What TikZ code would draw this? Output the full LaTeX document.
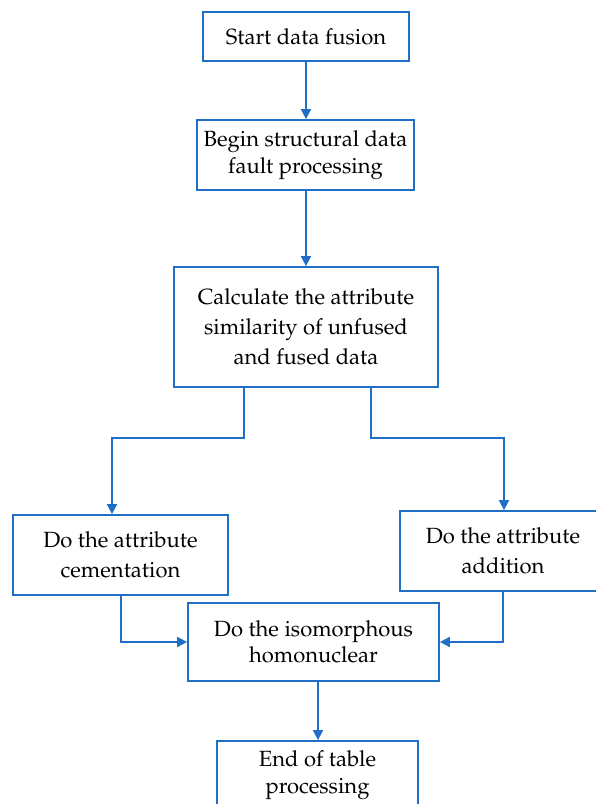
\documentclass[tikz,border=0pt]{standalone}
\usepackage[T1]{fontenc}
\usepackage{mathpazo}
\usetikzlibrary{arrows.meta}
\definecolor{flowblue}{RGB}{31,111,198}
\begin{document}
\begin{tikzpicture}[x=1pt,y=-1pt,
  box/.style={draw=flowblue,line width=1.8pt,fill=white,align=center,inner sep=0pt,
    font=\fontsize{22}{30}\selectfont},
  tight/.style={font=\fontsize{22}{26.5}\selectfont},
  arr/.style={draw=flowblue,line width=1.8pt,-{Triangle[width=10pt,length=10pt]}}]
\useasboundingbox (0,0) rectangle (596,804);
\node[box,minimum width=206pt,minimum height=49pt] (n1) at (306,36.5) {Start data fusion};
\node[box,tight,minimum width=217pt,minimum height=70pt] (n2) at (305.5,155) {Begin structural data\\fault processing};
\node[box,minimum width=264pt,minimum height=120pt] (n3) at (306,327) {Calculate the attribute\\similarity of unfused\\and fused data};
\node[box,minimum width=215pt,minimum height=80pt] (n4) at (120.5,555) {Do the attribute\\cementation};
\node[box,minimum width=206pt,minimum height=80pt] (n5) at (503,551) {Do the attribute\\addition};
\node[box,tight,minimum width=251pt,minimum height=78pt] (n6) at (313.5,642) {Do the isomorphous\\homonuclear};
\node[box,tight,minimum width=201pt,minimum height=68pt] (n7) at (317.5,775) {End of table\\processing};
\coordinate (sc) at (306,0);
\coordinate (sl) at (244,0);
\coordinate (sr) at (371,0);
\coordinate (bl) at (112,438);
\coordinate (br) at (504,438);
\coordinate (ml) at (121,0);
\coordinate (mr) at (503,0);
\coordinate (mc) at (318,0);
\draw[arr] (n1.south -| sc) -- (n2.north -| sc);
\draw[arr] (n2.south -| sc) -- (n3.north -| sc);
\draw[arr] (n3.south -| sl) |- (bl) -- (bl |- n4.north);
\draw[arr] (n3.south -| sr) |- (br) -- (br |- n5.north);
\draw[arr] (n4.south -| ml) |- (n6.west);
\draw[arr] (n5.south -| mr) |- (n6.east);
\draw[arr] (n6.south -| mc) -- (mc |- n7.north);
\end{tikzpicture}
\end{document}
